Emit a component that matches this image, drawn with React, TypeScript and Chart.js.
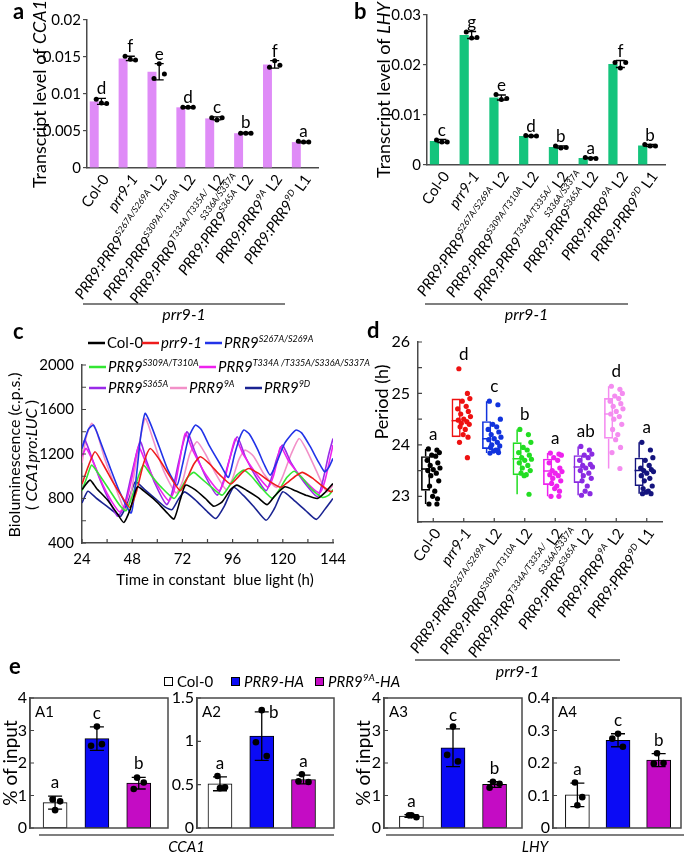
import React, { useEffect, useRef } from 'react';
import { Chart, registerables } from 'chart.js';
Chart.register(...registerables);

const FONT = "Lato, 'Liberation Sans', 'DejaVu Sans', sans-serif";
Chart.defaults.font.family = FONT;
Chart.defaults.color = '#000';

type Seg = { t: string; i?: boolean; s?: boolean };

// ---------------- genotypes (panels a, b, d) ----------------
const GENO_NAME = ['Col-0', 'prr9-1', 'S267A/S269A', 'S309A/T310A', 'T334A/T335A/S336A/S337A', 'S365A', '9A', '9D'];
const GENO_BASE = 'PRR9:PRR9';
const GENO_SUP = ['', '', 'S267A/S269A', 'S309A/T310A', 'T334A/T335A/', 'S365A', '9A', '9D'];
const GENO_SUP2 = ['', '', '', '', 'S336A/S337A', '', '', ''];
const GENO_LINE = ['', '', 'L2', 'L2', 'L2', 'L2', 'L2', 'L1'];
const GROUP_LABEL = 'prr9-1';

// ---------------- panel a: CCA1 transcript ----------------
const CCA1_MEAN = [0.009, 0.0148, 0.013, 0.0082, 0.0067, 0.0047, 0.014, 0.0035];
const CCA1_SD = [0.0004, 0.0003, 0.0011, 0.0001, 0.0002, 0.0001, 0.0005, 0.0001];
const CCA1_REPS = [
  [0.0093, 0.0088, 0.0087], [0.0151, 0.0147, 0.0146], [0.0121, 0.0141, 0.0127], [0.0082, 0.0082, 0.0082],
  [0.0068, 0.0065, 0.0068], [0.0047, 0.0047, 0.0047], [0.0136, 0.0145, 0.0139], [0.0036, 0.0035, 0.0035],
];
const CCA1_LETTERS = ['d', 'f', 'e', 'd', 'c', 'b', 'f', 'a'];

// ---------------- panel b: LHY transcript ----------------
const LHY_MEAN = [0.0048, 0.026, 0.0135, 0.0058, 0.0036, 0.0014, 0.0202, 0.0039];
const LHY_SD = [0.0003, 0.0007, 0.0005, 0.0001, 0.0002, 0.0001, 0.0007, 0.0002];
const LHY_REPS = [
  [0.005, 0.0046, 0.0046], [0.0266, 0.0254, 0.0255], [0.0141, 0.0131, 0.0133], [0.0059, 0.0058, 0.0058],
  [0.0038, 0.0034, 0.0035], [0.0015, 0.0013, 0.0013], [0.0205, 0.0194, 0.0205], [0.0041, 0.0038, 0.0038],
];
const LHY_LETTERS = ['c', 'g', 'e', 'd', 'b', 'a', 'f', 'b'];
const REP_OFFSETS = [-0.18, 0, 0.18];

// ---------------- panel c: bioluminescence ----------------
const LUC_NAMES = ['Col-0', 'prr9-1', 'S267A/S269A', 'S309A/T310A', 'T334A /T335A/S336A/S337A', 'S365A', '9A', '9D'];
const LUC_COLORS = ['#000000', '#ee1c1c', '#2233e8', '#33e633', '#ee22ee', '#9a2ae8', '#f290c8', '#1a2392'];
const LUC_COL0 = [[24, 880], [27.8, 965], [31, 890], [36, 790], [41, 660], [44, 585], [47, 700], [50.5, 905], [55, 845], [60, 765], [65, 665], [68, 615], [71, 790], [73.5, 920], [78, 880], [83, 800], [87, 730], [91, 770], [95, 880], [98, 920], [103, 870], [108, 810], [112.5, 745], [116, 820], [121, 905], [126, 870], [131, 830], [136.5, 800], [140, 850], [144, 935]];
const LUC_PRR9 = [[24, 930], [27, 1090], [30.2, 1220], [34, 1110], [39, 940], [44, 790], [47, 720], [50, 860], [53.5, 1120], [56.6, 1250], [61, 1150], [66, 1000], [71, 870], [74, 970], [77.5, 1110], [80.6, 1175], [85, 1110], [90, 1010], [95, 930], [98, 980], [101, 1040], [103.8, 1070], [108, 1030], [114, 950], [119, 900], [122, 940], [126, 1000], [129.4, 1035], [134, 985], [139, 910], [143, 860], [144, 870]];
const LUC_S267A = [[24, 1250], [27, 1420], [29.5, 1460], [33, 1300], [37, 1100], [42, 860], [47.5, 670], [50, 1000], [52, 1350], [54.2, 1565], [57, 1460], [61, 1260], [65, 1060], [69.4, 920], [72, 1100], [75, 1350], [78.2, 1460], [81, 1420], [85, 1270], [90, 1110], [94, 990], [97, 1200], [99.5, 1350], [101.4, 1415], [104, 1380], [108, 1240], [111, 1110], [114, 1010], [117, 1120], [121, 1300], [126.2, 1415], [129, 1390], [133, 1270], [137, 1130], [140, 1040], [142, 1080], [144, 1160]];
const LUC_S309A = [[24, 870], [26.5, 1000], [28.6, 1100], [32, 1020], [37, 880], [42, 740], [45, 690], [48, 820], [51, 1000], [53.4, 1100], [57, 1010], [62, 900], [68, 800], [71, 880], [74.5, 990], [77.4, 1035], [81, 980], [86, 900], [91, 830], [94, 900], [98, 1010], [101.4, 1055], [105, 1000], [110, 890], [115, 800], [118, 870], [122, 990], [125.4, 1045], [129, 990], [134, 880], [139, 810], [142, 830], [144, 880]];
const LUC_T334A = [[24, 1180], [26, 1250], [30, 1100], [34, 920], [38, 780], [42, 680], [45, 760], [48, 1000], [51, 1265], [55, 1100], [60, 920], [65.5, 780], [68, 870], [70.5, 1120], [73.4, 1385], [77, 1230], [83, 1020], [89.5, 870], [92, 960], [94.5, 1150], [97.4, 1340], [101, 1200], [107, 1030], [113, 900], [115.5, 1000], [117.5, 1150], [119, 1265], [123, 1130], [130, 970], [137.5, 850], [140, 950], [144, 1280]];
const LUC_S365A = [[24, 1250], [25.4, 1325], [29, 1150], [33, 950], [37, 780], [41, 640], [44, 720], [47.5, 1000], [51.8, 1310], [55, 1130], [59, 930], [64.5, 745], [67, 850], [70.5, 1150], [74.2, 1400], [78, 1220], [83, 1000], [88.6, 830], [91, 920], [94.5, 1150], [98.2, 1355], [102, 1180], [107, 1000], [112, 870], [114.5, 980], [117, 1150], [119.8, 1280], [124, 1120], [130, 950], [136.6, 815], [139, 950], [142, 1200], [144, 1340]];
const LUC_9A = [[24, 1120], [26, 1350], [28.6, 1475], [31, 1400], [35, 1150], [40, 900], [44.5, 700], [47, 800], [50.5, 1200], [54.2, 1520], [58, 1330], [63, 1050], [69, 850], [72, 950], [75.5, 1200], [79, 1310], [83, 1200], [88, 1020], [93, 880], [96, 980], [99, 1150], [102, 1235], [106, 1180], [111, 1020], [117, 900], [120, 1000], [124, 1200], [127.8, 1340], [131, 1250], [136, 1050], [141, 860], [144, 920]];
const LUC_9D = [[24, 760], [26.8, 865], [31, 800], [36, 730], [40, 670], [42.5, 640], [46, 770], [49.5, 950], [54, 880], [59, 800], [64, 720], [67, 700], [70, 790], [73, 860], [78, 790], [84, 680], [88, 620], [92, 730], [96.5, 900], [101, 830], [106, 730], [112, 605], [116, 710], [120, 860], [125, 790], [131, 690], [136, 612], [140, 700], [144, 800]];
const LUC_SERIES = [LUC_COL0, LUC_PRR9, LUC_S267A, LUC_S309A, LUC_T334A, LUC_S365A, LUC_9A, LUC_9D];

// ---------------- panel d: period ----------------
const D_COLORS = ['#000000', '#ee1111', '#1133dd', '#22dd22', '#ee22ee', '#8a2be2', '#f48cf0', '#14147e'];
const D_Q1 = [23.11, 24.15, 23.92, 23.41, 23.22, 23.26, 24.12, 23.2];
const D_MED = [23.53, 24.47, 24.12, 23.73, 23.49, 23.57, 24.6, 23.5];
const D_Q3 = [23.78, 24.9, 24.46, 24.05, 23.73, 23.8, 24.91, 23.75];
const D_MIN = [22.85, 24.15, 23.84, 23.04, 23.0, 23.02, 23.54, 23.05];
const D_MAX = [23.92, 24.9, 24.85, 24.3, 23.84, 23.97, 25.14, 24.05];
const D_LETTERS = ['a', 'd', 'c', 'b', 'a', 'ab', 'd', 'a'];
const D_POINTS = [
  [23.92, 23.9, 23.85, 23.8, 23.78, 23.7, 23.65, 23.6, 23.55, 23.52, 23.5, 23.45, 23.4, 23.3, 23.2, 23.1, 23.0, 22.95, 22.85, 22.85],
  [25.48, 25.0, 24.9, 24.85, 24.75, 24.7, 24.65, 24.6, 24.55, 24.5, 24.48, 24.45, 24.42, 24.4, 24.35, 24.3, 24.2, 24.15, 24.05, 23.75],
  [24.85, 24.78, 24.5, 24.4, 24.35, 24.3, 24.25, 24.2, 24.15, 24.12, 24.1, 24.05, 24.0, 23.98, 23.95, 23.9, 23.88, 23.85, 23.84, 23.9],
  [24.3, 24.2, 24.05, 23.95, 23.9, 23.85, 23.8, 23.75, 23.72, 23.7, 23.65, 23.6, 23.55, 23.5, 23.45, 23.42, 23.4, 23.04],
  [23.84, 23.82, 23.8, 23.75, 23.7, 23.65, 23.55, 23.5, 23.48, 23.45, 23.42, 23.4, 23.35, 23.3, 23.25, 23.2, 23.15, 23.1, 23.0, 23.0],
  [23.97, 23.9, 23.82, 23.8, 23.75, 23.7, 23.62, 23.6, 23.57, 23.55, 23.5, 23.45, 23.4, 23.35, 23.3, 23.2, 23.1, 23.05, 23.02],
  [25.14, 25.08, 25.0, 24.95, 24.9, 24.85, 24.8, 24.75, 24.7, 24.65, 24.6, 24.55, 24.5, 24.4, 24.3, 24.2, 24.1, 23.95, 23.85, 23.54],
  [24.05, 23.9, 23.75, 23.7, 23.6, 23.55, 23.52, 23.5, 23.48, 23.45, 23.4, 23.35, 23.3, 23.2, 23.15, 23.1, 23.08, 23.05, 23.05],
];
const D_JITTER = [-0.16, 0.12, 0.2, -0.05, 0.08, -0.2, 0.15, -0.1, 0.22, 0.0, -0.18, 0.1, -0.08, 0.18, -0.12, 0.05, -0.02, 0.14, -0.14, 0.12];

// ---------------- panel e: ChIP ----------------
const CHIP_GROUPS = ['Col-0', 'PRR9-HA', 'PRR9 9A-HA'];
const CHIP_COLORS = ['#ffffff', '#0b0bf5', '#c40cc4'];
const A1_MEAN = [0.78, 2.75, 1.38];
const A1_SD = [0.2, 0.36, 0.18];
const A1_REPS = [[0.88, 0.82, 0.55], [3.12, 2.53, 2.58], [1.55, 1.4, 1.2]];
const A1_LETTERS = ['a', 'c', 'b'];
const A2_MEAN = [0.51, 1.06, 0.56];
const A2_SD = [0.08, 0.28, 0.05];
const A2_REPS = [[0.6, 0.47, 0.46], [1.36, 0.99, 0.83], [0.62, 0.53, 0.54]];
const A2_LETTERS = ['a', 'b', 'a'];
const A3_MEAN = [0.37, 2.47, 1.34];
const A3_SD = [0.04, 0.58, 0.09];
const A3_REPS = [[0.39, 0.33, 0.39], [3.12, 2.25, 2.05], [1.42, 1.36, 1.24]];
const A3_LETTERS = ['a', 'c', 'b'];
const A4_MEAN = [0.102, 0.27, 0.209];
const A4_SD = [0.036, 0.02, 0.02];
const A4_REPS = [[0.14, 0.095, 0.07], [0.29, 0.275, 0.25], [0.23, 0.2, 0.198]];
const A4_LETTERS = ['a', 'c', 'b'];
const E_REP_OFFSETS = [[-0.06, 0.12, 0], [0, -0.14, 0.12], [-0.04, 0.12, -0.12]];

// ---------------- drawing helpers ----------------
const fmt = (v: number) => String(+Number(v).toFixed(6));
function segFont(seg: Seg, size: number, sup: number, bold?: boolean) {
  return `${seg.i ? 'italic ' : ''}${bold ? 'bold ' : ''}${seg.s ? sup : size}px ${FONT}`;
}
function richWidth(ctx: CanvasRenderingContext2D, segs: Seg[], size: number, sup: number) {
  let w = 0;
  for (const s of segs) { ctx.font = segFont(s, size, sup); w += ctx.measureText(s.t).width; }
  return w;
}
function drawRich(ctx: CanvasRenderingContext2D, segs: Seg[], x: number, y: number, size: number, align = 'left', sup = Math.round(size * 0.66), color = '#000') {
  const w = richWidth(ctx, segs, size, sup);
  let cx = align === 'left' ? x : align === 'center' ? x - w / 2 : x - w;
  ctx.save();
  ctx.fillStyle = color; ctx.textAlign = 'left'; ctx.textBaseline = 'alphabetic';
  for (const s of segs) {
    ctx.font = segFont(s, size, sup);
    ctx.fillText(s.t, cx, s.s ? y - size * 0.4 : y);
    cx += ctx.measureText(s.t).width;
  }
  ctx.restore();
  return w;
}
function panelLetter(ctx: CanvasRenderingContext2D, t: string, x: number, y: number) {
  ctx.save(); ctx.font = `bold 22px ${FONT}`; ctx.fillStyle = '#000'; ctx.textAlign = 'left'; ctx.fillText(t, x, y); ctx.restore();
}
function vTitle(ctx: CanvasRenderingContext2D, segs: Seg[], x: number, y: number, size: number) {
  ctx.save(); ctx.translate(x, y); ctx.rotate(-Math.PI / 2); drawRich(ctx, segs, 0, size * 0.35, size, 'center'); ctx.restore();
}
function genoSegs(i: number): Seg[] {
  if (i === 0) return [{ t: GENO_NAME[0] }];
  if (i === 1) return [{ t: GENO_NAME[1], i: true }];
  return [{ t: GENO_BASE, i: true }, { t: GENO_SUP[i], i: true, s: true }, { t: ' ' + GENO_LINE[i] }];
}
const ANG = 55 * Math.PI / 180;
function drawGenoLabels(chart: any, size: number, dx: number, dy: number) {
  const { ctx } = chart; const xs = chart.scales.x; const bottom = chart.chartArea.bottom;
  for (let i = 0; i < GENO_NAME.length; i++) {
    const px = xs.getPixelForValue(i);
    ctx.save(); ctx.translate(px + dx, bottom + dy); ctx.rotate(-ANG);
    drawRich(ctx, genoSegs(i), 0, size * 0.35, size, 'right', 9);
    if (GENO_SUP2[i]) drawRich(ctx, [{ t: GENO_SUP2[i], i: true }], 9, size * 0.35 + 7, 9, 'right');
    ctx.restore();
  }
}
function drawGroup(ctx: CanvasRenderingContext2D, x0: number, x1: number, y: number, segs: Seg[], ty: number, size: number) {
  ctx.save(); ctx.strokeStyle = '#555'; ctx.lineWidth = 1.5; ctx.beginPath(); ctx.moveTo(x0, y); ctx.lineTo(x1, y); ctx.stroke(); ctx.restore();
  drawRich(ctx, segs, (x0 + x1) / 2, ty, size, 'center');
}
function drawInTicks(chart: any, id: string, len: number) {
  const s = chart.scales[id]; const { ctx, chartArea: ca } = chart;
  ctx.save(); ctx.strokeStyle = '#444'; ctx.lineWidth = 1.2; ctx.beginPath();
  s.ticks.forEach((_: any, i: number) => {
    const p = s.getPixelForTick(i);
    if (s.isHorizontal()) { ctx.moveTo(p, ca.bottom); ctx.lineTo(p, ca.bottom - len); }
    else { ctx.moveTo(ca.left, p); ctx.lineTo(ca.left + len, p); }
  });
  ctx.stroke(); ctx.restore();
}
function drawErr(chart: any, means: number[], sds: number[], cap: number, xId: string) {
  const { ctx } = chart; const xs = chart.scales[xId]; const ys = chart.scales.y;
  ctx.save(); ctx.strokeStyle = '#000'; ctx.lineWidth = 1.3; ctx.beginPath();
  means.forEach((m, i) => {
    const px = xs.getPixelForValue(i); const t = ys.getPixelForValue(m + sds[i]); const b = ys.getPixelForValue(m - sds[i]);
    ctx.moveTo(px, t); ctx.lineTo(px, b);
    ctx.moveTo(px - cap / 2, t); ctx.lineTo(px + cap / 2, t);
    ctx.moveTo(px - cap / 2, b); ctx.lineTo(px + cap / 2, b);
  });
  ctx.stroke(); ctx.restore();
}
function drawLetters(chart: any, means: number[], sds: number[], letters: string[], size: number, gap: number, xId: string, side?: boolean[]) {
  const { ctx } = chart; const xs = chart.scales[xId]; const ys = chart.scales.y;
  ctx.save(); ctx.font = `${size}px ${FONT}`; ctx.fillStyle = '#000'; ctx.textAlign = 'center'; ctx.textBaseline = 'alphabetic';
  letters.forEach((l, i) => {
    const px = xs.getPixelForValue(i); const t = ys.getPixelForValue(means[i] + sds[i]);
    if (side && side[i]) ctx.fillText(l, px + 12, t + 6);
    else ctx.fillText(l, px, t - gap);
  });
  ctx.restore();
}
const BORDER = { display: true, color: '#4a4a4a', width: 1.5 };
const BASE_OPTS = { animation: false, responsive: false, devicePixelRatio: 1, events: [] as any[] };
const NO_PLUG = { legend: { display: false }, tooltip: { enabled: false } };

// ---------------- panels a / b ----------------
function makeBarPanel(o: any) {
  const reps: any[] = [];
  o.reps.forEach((r: number[], i: number) => r.forEach((v, k) => reps.push({ x: i + REP_OFFSETS[k], y: v })));
  return {
    type: 'bar',
    data: {
      labels: GENO_NAME,
      datasets: [
        { type: 'bar', data: o.means, backgroundColor: o.color, barPercentage: 0.62, categoryPercentage: 1, xAxisID: 'x', yAxisID: 'y', order: 2 },
        { type: 'scatter', data: reps, xAxisID: 'x2', yAxisID: 'y', pointRadius: 2.5, pointBackgroundColor: '#000', pointBorderWidth: 0, order: 1 },
      ],
    },
    options: {
      ...BASE_OPTS,
      layout: { padding: { left: 0, top: o.area.top, right: o.w - o.area.right, bottom: 0 } },
      plugins: NO_PLUG,
      scales: {
        x: { type: 'category', offset: true, grid: { display: false, drawTicks: false }, ticks: { display: false }, border: BORDER, afterFit: (s: any) => { s.height = o.h - o.area.bottom; } },
        x2: { type: 'linear', min: -0.5, max: 7.5, offset: false, display: false },
        y: {
          min: 0, max: o.yMax,
          ticks: { stepSize: o.yStep, font: { size: 15 }, color: '#000', padding: 2, callback: fmt },
          grid: { drawOnChartArea: false, drawTicks: true, tickLength: 4, color: '#4a4a4a', lineWidth: 1.2 },
          border: BORDER, afterFit: (s: any) => { s.width = o.area.left; },
        },
      },
    },
    plugins: [{
      id: 'deco',
      afterDatasetDraw(chart: any, args: any) { if (args.index === 0) drawErr(chart, o.means, o.sds, 9, 'x2'); },
      afterDraw(chart: any) {
        const ctx = chart.ctx;
        drawLetters(chart, o.means, o.sds, o.letters, 17, 4, 'x2');
        vTitle(ctx, o.title, o.titleX, o.titleY, 18);
        drawGenoLabels(chart, 15, 4, 8);
        drawGroup(ctx, o.group[0], o.group[1], 304, [{ t: GROUP_LABEL, i: true }], 320, 16);
        panelLetter(ctx, o.panel, o.panelXY[0], o.panelXY[1]);
      },
    }],
  };
}

// ---------------- panel c ----------------
const LEGEND_POS = [[88, 18], [142, 18], [205, 18], [89, 42], [199, 42], [89, 63], [170, 63], [245, 63]];
function lucLabel(i: number): Seg[] {
  if (i === 0) return [{ t: LUC_NAMES[0] }];
  if (i === 1) return [{ t: LUC_NAMES[1], i: true }];
  return [{ t: 'PRR9', i: true }, { t: LUC_NAMES[i], i: true, s: true }];
}
function makeLinePanel() {
  const area = { left: 82, top: 40, right: 333, bottom: 218 }; const w = 385, h = 275;
  return {
    type: 'line',
    data: {
      datasets: LUC_SERIES.map((s, k) => ({
        data: s.map(([x, y]) => ({ x, y })), borderColor: LUC_COLORS[k], borderWidth: 1.6, pointRadius: 0, tension: 0.2, fill: false,
      })),
    },
    options: {
      ...BASE_OPTS,
      layout: { padding: { left: 0, top: area.top, right: w - area.right, bottom: 0 } },
      plugins: NO_PLUG,
      scales: {
        x: {
          type: 'linear', min: 24, max: 144,
          ticks: { stepSize: 12, autoSkip: false, maxRotation: 0, font: { size: 15 }, color: '#000', padding: 7, callback: (v: number) => ((v - 24) % 24 === 0 ? String(v) : '') },
          grid: { display: false, drawTicks: false }, border: BORDER, afterFit: (s: any) => { s.height = h - area.bottom; },
        },
        y: {
          min: 400, max: 2000,
          ticks: { stepSize: 200, autoSkip: false, font: { size: 15 }, color: '#000', padding: 8, callback: (v: number) => (v % 400 === 0 ? String(v) : '') },
          grid: { display: false, drawTicks: false }, border: BORDER, afterFit: (s: any) => { s.width = area.left; },
        },
      },
    },
    plugins: [{
      id: 'decoC',
      afterDraw(chart: any) {
        const ctx = chart.ctx;
        drawInTicks(chart, 'x', 4); drawInTicks(chart, 'y', 4);
        vTitle(ctx, [{ t: 'Bioluminescence (c.p.s.)' }], 14, 130, 16);
        vTitle(ctx, [{ t: '( ' }, { t: 'CCA1pro:LUC', i: true }, { t: ' )' }], 31, 130, 16);
        drawRich(ctx, [{ t: 'Time in constant  blue light (h)' }], 215, 260, 15, 'center');
        chart.data.datasets.forEach((ds: any, i: number) => {
          const [lx, ly] = LEGEND_POS[i];
          ctx.save(); ctx.strokeStyle = ds.borderColor; ctx.lineWidth = 2.5; ctx.beginPath(); ctx.moveTo(lx, ly); ctx.lineTo(lx + 17, ly); ctx.stroke(); ctx.restore();
          drawRich(ctx, lucLabel(i), lx + 19, ly + 5, 15, 'left', 9);
        });
        panelLetter(ctx, 'c', 13, 14);
      },
    }],
  };
}

// ---------------- panel d ----------------
function makeBoxPanel() {
  const area = { left: 78, top: 22, right: 322, bottom: 202 }; const w = 345, h = 370;
  const pts: any[] = []; const pcol: string[] = [];
  D_POINTS.forEach((arr, i) => arr.forEach((v, k) => { pts.push({ x: i + D_JITTER[k % D_JITTER.length], y: v }); pcol.push(D_COLORS[i]); }));
  return {
    type: 'bar',
    data: {
      labels: GENO_NAME,
      datasets: [
        { type: 'bar', data: D_Q1.map((q, i) => [q, D_Q3[i]]), backgroundColor: 'rgba(255,255,255,0)', borderColor: D_COLORS, borderWidth: 1.6, borderSkipped: false, barPercentage: 0.6, categoryPercentage: 1, xAxisID: 'x', order: 2 },
        { type: 'scatter', data: pts, xAxisID: 'x2', pointRadius: 2.6, pointBackgroundColor: pcol, pointBorderWidth: 0, order: 1 },
      ],
    },
    options: {
      ...BASE_OPTS,
      layout: { padding: { left: 0, top: area.top, right: w - area.right, bottom: 0 } },
      plugins: NO_PLUG,
      scales: {
        x: { type: 'category', offset: true, grid: { display: false, drawTicks: false }, ticks: { display: false }, border: BORDER, afterFit: (s: any) => { s.height = h - area.bottom; } },
        x2: { type: 'linear', min: -0.5, max: 7.5, offset: false, display: false },
        y: {
          min: 22.5, max: 26,
          ticks: { stepSize: 0.5, autoSkip: false, font: { size: 16 }, color: '#000', padding: 8, callback: (v: number) => (Number.isInteger(v) ? String(v) : '') },
          grid: { display: false, drawTicks: false }, border: BORDER, afterFit: (s: any) => { s.width = area.left; },
        },
      },
    },
    plugins: [{
      id: 'decoD',
      afterDatasetDraw(chart: any, args: any) {
        if (args.index !== 0) return;
        const { ctx } = chart; const ys = chart.scales.y; const meta = chart.getDatasetMeta(0);
        meta.data.forEach((bar: any, i: number) => {
          const px = bar.x; const hw = bar.width / 2;
          ctx.save(); ctx.strokeStyle = D_COLORS[i]; ctx.lineWidth = 1.5; ctx.beginPath();
          const m = ys.getPixelForValue(D_MED[i]);
          ctx.moveTo(px - hw, m); ctx.lineTo(px + hw, m);
          ctx.moveTo(px, ys.getPixelForValue(D_Q3[i])); ctx.lineTo(px, ys.getPixelForValue(D_MAX[i]));
          ctx.moveTo(px, ys.getPixelForValue(D_Q1[i])); ctx.lineTo(px, ys.getPixelForValue(D_MIN[i]));
          ctx.stroke(); ctx.restore();
        });
      },
      afterDraw(chart: any) {
        const { ctx } = chart; const xs = chart.scales.x2; const ys = chart.scales.y;
        drawInTicks(chart, 'x', 4); drawInTicks(chart, 'y', 4);
        ctx.save(); ctx.font = `17px ${FONT}`; ctx.fillStyle = '#000'; ctx.textAlign = 'center';
        D_LETTERS.forEach((l, i) => {
          const top = Math.max(D_MAX[i], ...D_POINTS[i]);
          ctx.fillText(l, xs.getPixelForValue(i), ys.getPixelForValue(top) - 9);
        });
        ctx.restore();
        vTitle(ctx, [{ t: 'Period (h)' }], 42, 82, 18);
        drawGenoLabels(chart, 15, 4, 8);
        drawGroup(ctx, 75, 280, 340, [{ t: GROUP_LABEL, i: true }], 357, 16);
        panelLetter(ctx, 'd', 27, 18);
      },
    }],
  };
}

// ---------------- panel e ----------------
function makeChipPanel(o: any) {
  const reps: any[] = [];
  o.reps.forEach((r: number[], i: number) => r.forEach((v, k) => reps.push({ x: i + E_REP_OFFSETS[i][k], y: v })));
  return {
    type: 'bar',
    data: {
      labels: CHIP_GROUPS,
      datasets: [
        { type: 'bar', data: o.means.map((m: number, i: number) => ({ x: i, y: m })), backgroundColor: CHIP_COLORS, borderColor: '#000', borderWidth: 1, borderSkipped: false, barThickness: 24, order: 2 },
        { type: 'scatter', data: reps, pointRadius: 3.3, pointBackgroundColor: '#000', pointBorderWidth: 0, order: 1 },
      ],
    },
    options: {
      ...BASE_OPTS,
      layout: { padding: { left: 0, top: o.area.top, right: o.w - o.area.right, bottom: o.h - o.area.bottom } },
      plugins: NO_PLUG,
      scales: {
        x: { type: 'linear', min: o.xmin, max: o.xmax, offset: false, display: false },
        y: {
          min: 0, max: o.yMax,
          ticks: { stepSize: o.yStep, font: { size: 16 }, color: '#000', padding: 3, callback: fmt },
          grid: { display: false, drawTicks: false }, border: BORDER, afterFit: (s: any) => { s.width = o.area.left; },
        },
      },
    },
    plugins: [{
      id: 'decoE',
      afterDatasetDraw(chart: any, args: any) { if (args.index === 0) drawErr(chart, o.means, o.sds, 14, 'x'); },
      afterDraw(chart: any) {
        const { ctx, chartArea: ca } = chart;
        ctx.save(); ctx.strokeStyle = '#4a4a4a'; ctx.lineWidth = 1.5; ctx.strokeRect(ca.left, ca.top, ca.right - ca.left, ca.bottom - ca.top); ctx.restore();
        drawInTicks(chart, 'y', 4);
        drawLetters(chart, o.means, o.sds, o.letters, 17, 8, 'x', o.side);
        drawRich(ctx, [{ t: o.name }], ca.left + 5, ca.top + 19, 15, 'left');
        if (o.yTitle) vTitle(ctx, [{ t: '% of input' }], o.yTitle, (ca.top + ca.bottom) / 2, 19);
        if (o.extra) o.extra(chart);
      },
    }],
  };
}
const E_LEGEND_X = [164, 231, 315];
function chipLegend(i: number): Seg[] {
  if (i === 0) return [{ t: CHIP_GROUPS[0] }];
  if (i === 1) return [{ t: CHIP_GROUPS[1], i: true }];
  const [, sup] = CHIP_GROUPS[2].split(' ');
  return [{ t: 'PRR9', i: true }, { t: sup.replace('-HA', ''), i: true, s: true }, { t: '-HA', i: true }];
}
function e1Extra(chart: any) {
  const { ctx } = chart;
  panelLetter(ctx, 'e', 9, 14);
  CHIP_COLORS.forEach((c, i) => {
    const x = E_LEGEND_X[i];
    ctx.save(); ctx.fillStyle = c; ctx.strokeStyle = '#000'; ctx.lineWidth = 1; ctx.fillRect(x, 17, 9, 9); ctx.strokeRect(x + 0.5, 17.5, 8, 8); ctx.restore();
    drawRich(ctx, chipLegend(i), x + 13, 27, 15, 'left', 10);
  });
  drawGroup(ctx, 39, 334, 175, [{ t: 'CCA1', i: true }], 192, 15);
  drawGroup(ctx, 386, 684, 175, [{ t: 'LHY', i: true }], 192, 15);
}

const CANVASES = [
  { x: 0, y: 660, w: 685, h: 192 },
  { x: 0, y: 0, w: 340, h: 330 },
  { x: 340, y: 0, w: 345, h: 330 },
  { x: 0, y: 325, w: 385, h: 275 },
  { x: 340, y: 320, w: 345, h: 370 },
  { x: 150, y: 660, w: 200, h: 192 },
  { x: 340, y: 660, w: 200, h: 192 },
  { x: 525, y: 660, w: 160, h: 192 },
];

export default function App() {
  const refs = useRef<(HTMLCanvasElement | null)[]>([]);
  useEffect(() => {
    const cfgs: any[] = [
      makeChipPanel({ name: 'A1', means: A1_MEAN, sds: A1_SD, reps: A1_REPS, letters: A1_LETTERS, yMax: 4, yStep: 1, xmin: -0.6, xmax: 2.7, w: 685, h: 192, area: { left: 30, top: 38, right: 168, bottom: 168 }, yTitle: 10, extra: e1Extra }),
      makeBarPanel({ means: CCA1_MEAN, sds: CCA1_SD, reps: CCA1_REPS, letters: CCA1_LETTERS, color: '#df8bf7', yMax: 0.02, yStep: 0.005, w: 340, h: 330, area: { left: 87, top: 20, right: 318, bottom: 168 }, title: [{ t: 'Transcript level of ' }, { t: 'CCA1', i: true }], titleX: 40, titleY: 94, group: [83, 285], panel: 'a', panelXY: [13, 19] }),
      makeBarPanel({ means: LHY_MEAN, sds: LHY_SD, reps: LHY_REPS, letters: LHY_LETTERS, color: '#14c47c', yMax: 0.03, yStep: 0.01, w: 345, h: 330, area: { left: 87, top: 15, right: 325, bottom: 165 }, title: [{ t: 'Transcript level of ' }, { t: 'LHY', i: true }], titleX: 44, titleY: 90, group: [85, 288], panel: 'b', panelXY: [14, 19] }),
      makeLinePanel(),
      makeBoxPanel(),
      makeChipPanel({ name: 'A2', means: A2_MEAN, sds: A2_SD, reps: A2_REPS, letters: A2_LETTERS, side: [false, true, false], yMax: 1.5, yStep: 0.5, xmin: -0.55, xmax: 2.73, w: 200, h: 192, area: { left: 47, top: 38, right: 184, bottom: 168 } }),
      makeChipPanel({ name: 'A3', means: A3_MEAN, sds: A3_SD, reps: A3_REPS, letters: A3_LETTERS, yMax: 4, yStep: 1, xmin: -0.66, xmax: 2.66, w: 200, h: 192, area: { left: 44, top: 38, right: 182, bottom: 168 }, yTitle: 23 }),
      makeChipPanel({ name: 'A4', means: A4_MEAN, sds: A4_SD, reps: A4_REPS, letters: A4_LETTERS, yMax: 0.4, yStep: 0.1, xmin: -0.6, xmax: 2.55, w: 160, h: 192, area: { left: 28, top: 38, right: 159, bottom: 168 } }),
    ];
    const charts: Chart[] = [];
    cfgs.forEach((cfg, i) => { const c = refs.current[i]; if (c) charts.push(new Chart(c, cfg)); });
    return () => charts.forEach((c) => c.destroy());
  }, []);
  return (
    <div style={{ position: 'absolute', left: 0, top: 0, width: 685, height: 852, background: '#fff', overflow: 'hidden' }}>
      {CANVASES.map((c, i) => (
        <canvas key={i} ref={(el) => { refs.current[i] = el; }} width={c.w} height={c.h}
          style={{ position: 'absolute', left: c.x, top: c.y, width: c.w, height: c.h }} />
      ))}
    </div>
  );
}
